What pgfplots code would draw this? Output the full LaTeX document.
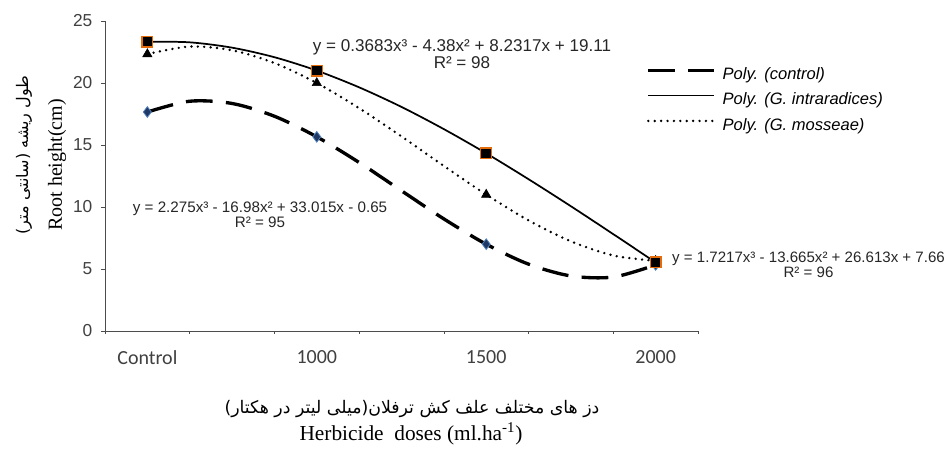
\documentclass[border=0pt]{standalone}
\usepackage{fontspec}
\usepackage{pgfplots}
\pgfplotsset{compat=1.18}
\setmainfont{Liberation Sans}
\newfontfamily\arialf{Liberation Sans}
\newfontfamily\calibrif{Carlito}
\newfontfamily\timesf{Liberation Serif}
\newfontfamily\farsi[Script=Arabic]{DejaVu Sans}
\TeXXeTstate=1
\definecolor{orangeedge}{HTML}{E46C0A}
\definecolor{dblue}{HTML}{1F3864}
\definecolor{lblue}{HTML}{4F81BD}
\begin{document}
\begin{tikzpicture}
\useasboundingbox (-78.75pt,-91.5pt) rectangle (632.25pt,248.25pt);
\begin{axis}[
  at={(0,0)}, anchor=south west,
  scale only axis, width=444.75pt, height=232.5pt,
  xmin=0.75, xmax=4.25, ymin=0, ymax=25,
  axis x line=bottom, axis y line=left,
  axis line style={-, black!70, line width=0.6pt},
  xtick={1,2,3,4}, xticklabels={Control,1000,1500,2000},
  major x tick style={draw=none},
  minor xtick={0.75,1.25,1.75,2.25,2.75,3.25,3.75,4.25},
  minor tick length=2pt, major tick length=3pt,
  tick style={black!70, line width=0.5pt},
  tick align=outside,
  x tick label style={font=\calibrif\fontsize{15}{15}\selectfont, text=black!75, yshift=-8pt},
  ytick={0,5,10,15,20,25},
  y tick label style={font=\arialf\fontsize{13}{13}\selectfont, text=black!75, xshift=-3pt},
  /pgf/number format/assume math mode=true,
  clip=false,
  legend style={at={(0.913,0.857)}, anchor=north west, draw=none, fill=none,
    font=\arialf\itshape\fontsize{12.4}{12.4}\selectfont, row sep=4pt, inner sep=0pt,
    nodes={inner sep=1.5pt, text height=9pt, text depth=3pt},
    /tikz/every odd column/.append style={column sep=4pt}},
  legend cell align=left,
  legend image code/.code={\draw[#1] (0pt,4pt) -- (49pt,4pt);},
]
% trendlines
\addplot[black, line width=2.5pt, dash pattern=on 20pt off 10pt, smooth] coordinates {
 (1,17.66) (1.25,18.53) (1.5,18.35) (1.75,17.32) (2,15.66) (2.25,13.59) (2.5,11.31)
 (2.75,9.04) (3,7.00) (3.25,5.39) (3.5,4.44) (3.75,4.35) (4,5.33)};
\addlegendentry{Poly. (control)}
\addplot[black, line width=1.3pt, smooth] coordinates {
 (1,23.33) (1.25,23.28) (1.5,22.85) (1.75,22.08) (2,21.00) (2.25,19.65) (2.5,18.07)
 (2.75,16.28) (3,14.33) (3.25,12.24) (3.5,10.06) (3.75,7.81) (4,5.53)};
\addlegendentry{Poly. (G. intraradices)}
\addplot[black, line width=2pt, line cap=round, dash pattern=on 0pt off 4.8pt, smooth] coordinates {
 (1,22.33) (1.25,22.94) (1.5,22.64) (1.75,21.61) (2,20.00) (2.25,17.97) (2.5,15.69)
 (2.75,13.31) (3,11.00) (3.25,8.92) (3.5,7.23) (3.75,6.09) (4,5.66)};
\addlegendentry{Poly. (G. mosseae)}
% data markers
\addplot[forget plot, only marks, mark=diamond*, mark size=4pt, mark options={fill=dblue, draw=lblue, line width=0.6pt}]
 coordinates {(1,17.66) (2,15.66) (3,7.00) (4,5.33)};
\addplot[forget plot, only marks, mark=triangle*, mark size=4pt, mark options={fill=black, draw=black}]
 coordinates {(1,22.33) (2,20.00) (3,11.00) (4,5.66)};
\addplot[forget plot, only marks, mark=square*, mark size=4pt, mark options={fill=black, draw=orangeedge, line width=0.9pt}]
 coordinates {(1,23.33) (2,21.00) (3,14.33) (4,5.53)};
% equations
\node[font=\arialf\fontsize{12.8}{11.5}\selectfont, align=center, text=black!85] at (axis cs:2.857,22.30)
 {y = 0.3683x³ - 4.38x² + 8.2317x + 19.11\\R² = 98};
\node[font=\arialf\fontsize{11.4}{11.5}\selectfont, align=center, text=black!85] at (axis cs:1.665,9.40)
 {y = 2.275x³ - 16.98x² + 33.015x - 0.65\\R² = 95};
\node[font=\arialf\fontsize{11.3}{11.5}\selectfont, align=center, text=black!85, anchor=west, inner sep=0pt] at (axis cs:4.096,5.36)
 {y = 1.7217x³ - 13.665x² + 26.613x + 7.66\\R² = 96};
% axis titles
\node[rotate=90, font=\timesf\fontsize{15}{15}\selectfont] at (axis cs:0.467,13.39) {Root height(cm)};
\node[rotate=90, font=\farsi\fontsize{12}{12}\selectfont] at (axis cs:0.272,14.19) {\beginR طول ریشه (سانتی متر)\endR};
\node[font=\farsi\fontsize{13}{13}\selectfont] at (axis cs:2.562,-6.29) {\beginR دز های مختلف علف کش ترفلان(میلی لیتر در هکتار)\endR};
\node[font=\timesf\fontsize{16}{16}\selectfont] at (axis cs:2.556,-8.31) {Herbicide\ \ doses (ml.ha\textsuperscript{-1})};
\end{axis}
\end{tikzpicture}
\end{document}
